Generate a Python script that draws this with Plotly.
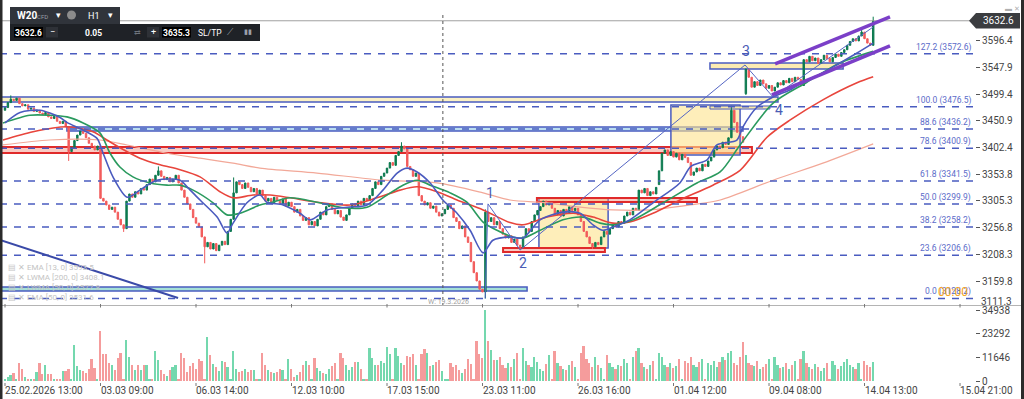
import plotly.graph_objects as go

# ---------------- data ----------------
x_tick_labels = ["25.02.2026 13:00", "03.03 09:00", "06.03 14:00", "12.03 10:00", "17.03 15:00",
                 "23.03 11:00", "26.03 16:00", "01.04 12:00", "09.04 08:00", "14.04 13:00", "15.04 21:00"]
bars_per_tick = 33

closes = [
    3475, 3484, 3490, 3488, 3492,
    3482, 3478, 3480, 3472, 3474, 3468, 3470, 3465,
    3462, 3466, 3458, 3455, 3459, 3450, 3446, 3450, 3440,
    3395, 3402,
    3415, 3425, 3432, 3428, 3420, 3410, 3405, 3398, 3405,
    3310,
    3305, 3298, 3290, 3294, 3285, 3272, 3262, 3255,
    3305,
    3318, 3312, 3322, 3318, 3328, 3325, 3335, 3345, 3340, 3352, 3360,
    3350, 3344, 3348, 3340, 3345, 3352, 3338,
    3325, 3312, 3300, 3290, 3275, 3265, 3258,
    3240, 3222, 3230, 3218, 3228, 3215, 3225, 3232, 3226,
    3250, 3272,
    3320, 3340, 3335, 3328, 3338, 3330, 3322, 3328, 3318, 3325,
    3315, 3305, 3310, 3302, 3312, 3306, 3300, 3309, 3296, 3303,
    3295, 3285, 3290, 3278, 3270, 3275, 3262, 3268, 3260,
    3272, 3285, 3280, 3295, 3300,
    3290, 3282, 3288, 3276, 3270, 3280,
    3292, 3300, 3295, 3305, 3298, 3310, 3306, 3315,
    3328, 3340, 3335, 3350, 3356,
    3365, 3375, 3370, 3388, 3395, 3405,
    3400, 3368,
    3362, 3350, 3356,
    3315, 3305, 3298, 3302, 3292, 3296,
    3285, 3278, 3282,
    3290, 3298, 3292,
    3275, 3268, 3255, 3260, 3240, 3230,
    3195, 3175, 3160, 3145, 3140,
    3285,
    3268, 3275, 3262, 3268, 3255,
    3245, 3238, 3242, 3230, 3236, 3225, 3222,
    3240, 3255, 3250, 3268, 3280, 3288,
    3295, 3305, 3298, 3302, 3292,
    3280, 3288, 3278, 3290, 3284, 3295, 3288, 3292, 3280,
    3268, 3250, 3240, 3228, 3222, 3230, 3226,
    3240, 3250, 3245,
    3255, 3262, 3258, 3268, 3265,
    3278, 3285, 3280, 3292, 3288,
    3325,
    3320, 3328, 3315, 3322, 3318, 3330,
    3360, 3392,
    3398, 3388, 3395, 3385, 3392, 3380, 3390, 3384, 3375,
    3352, 3358, 3365, 3360, 3372, 3368, 3378, 3385,
    3398, 3405, 3402, 3412, 3408, 3420,
    3470,
    3448, 3430, 3422, 3412,
    3545,
    3530, 3512, 3522, 3515, 3525, 3518, 3510, 3515, 3505,
    3512, 3520, 3516, 3524, 3520, 3528, 3522, 3530, 3526, 3515,
    3562,
    3558, 3568, 3560, 3565, 3555, 3562, 3570, 3564, 3558, 3566, 3572, 3568, 3575, 3580,
    3588, 3595, 3600, 3596, 3605, 3612,
    3600, 3592, 3588,
    3632.6,
]
gap_opens = {0: 3470, 226: 3335, 256: 3500}
wick_highs = {2: 3497, 53: 3368, 79: 3348, 137: 3412, 166: 3290, 251: 3478, 296: 3618, 300: 3640}
wick_lows = {22: 3378, 41: 3249, 69: 3192, 166: 3128.2, 178: 3216, 203: 3218, 256: 3498}

volumes = [
    840, 1980, 2960, 4100, 500, 8740, 5780, 1980, 1140, 500,
    500, 4450, 8740, 3310, 7760, 3310, 3310, 500, 500, 500,
    4790, 4940, 5780, 500, 17640, 7410, 5290, 4790, 3800, 6080,
    10720, 6570, 500, 24700, 13190, 13190, 9040, 7900, 5290, 11510,
    13980, 500, 20250, 11860, 8050, 5430, 7760, 5290, 8050, 8050,
    500, 500, 14820, 10370, 5290, 3310, 2620, 5430, 6920, 8050,
    500, 13680, 11210, 4590, 7260, 9040, 5780, 10720, 9880, 500,
    21880, 12840, 8550, 6920, 4940, 9880, 9390, 7060, 500, 14820,
    5780, 4590, 5090, 5780, 4590, 5290, 5430, 500, 500, 13980,
    7900, 5290, 4450, 4100, 4450, 5780, 5290, 500, 11020, 5780,
    1980, 3110, 4590, 7760, 9880, 7760, 500, 11210, 6570, 4790,
    3950, 3610, 5780, 7260, 9040, 500, 13980, 11210, 7900, 5290,
    6920, 9390, 9390, 6080, 500, 500, 16150, 11210, 7900, 7900,
    9880, 9040, 16940, 13190, 500, 16450, 12350, 8740, 7900, 12350,
    12000, 13490, 7760, 500, 13490, 15660, 13680, 7560, 7900, 9390,
    10370, 4940, 500, 500, 9040, 6920, 7900, 5430, 3800, 5780,
    10720, 8250, 840, 19760, 13490, 11510, 34938, 19760, 15170, 10370, 10370,
    12000, 8000, 6500, 9000, 7000, 11000, 14000, 500, 16000, 10000,
    8000, 7000, 12000, 9500, 6000, 5000, 8500, 13000, 500, 15000,
    9000, 7500, 6000, 5500, 8000, 10000, 7000, 500, 14000, 17000,
    11000, 9000, 7000, 12000, 8000, 6500, 500, 13000, 9000, 7000,
    6000, 8000, 7500, 11000, 9000, 500, 12000, 15000, 16000, 9000,
    7000, 6000, 8000, 10000, 500, 14000, 12000, 8000, 7000, 9000,
    6500, 7500, 11000, 500, 10000, 9000, 12000, 8000, 7000, 9500,
    11000, 500, 9000, 8000, 10000, 7000, 9500, 12000, 10500, 14000,
    15000, 9000, 8000, 12000, 19000, 13000, 9000, 8000, 7500, 10000,
    6000, 7000, 8500, 11000, 500, 12000, 8000, 6500, 7000, 9000,
    6000, 8000, 10000, 500, 11000, 15000, 9000, 7000, 6000, 8500,
    7000, 5000, 6500, 9000, 500, 10000, 8000, 6000, 7500, 9500,
    11000, 8000, 7000, 6000, 9000, 500, 10000, 8000, 7000, 9500,
]

ema13_i = [0, 5.2, 12.1, 19, 21.4, 27, 31.8, 33.9, 37.3, 42.2, 46.6, 52.5, 60.5, 62.9, 67.4, 73.3, 76.7,
           78.8, 83.6, 88.1, 90.5, 96.1, 101.9, 105.4, 111.3, 118.2, 125.1, 130.6, 135.5, 138.9, 142.4,
           146.9, 151.3, 156.2, 160.7, 165.2, 168.6, 174.5, 179, 184.9, 192.8, 198.7, 203.2, 206.6, 210.1,
           215.9, 223.9, 233.2, 237, 242.6, 246, 252.9, 255, 259.9, 265.4, 271.2, 277.1, 282.6, 288.5,
           294.4, 300]
ema13_p = [3447, 3466, 3470, 3457, 3448, 3434, 3419, 3392, 3349, 3312, 3325, 3343, 3343, 3331, 3307, 3276,
           3247, 3265, 3302, 3316, 3303, 3298, 3283, 3271, 3289, 3294, 3298, 3325, 3356, 3365, 3358, 3338,
           3307, 3283, 3252, 3211, 3234, 3240, 3238, 3271, 3285, 3283, 3262, 3252, 3258, 3271, 3302, 3338,
           3368, 3380, 3407, 3416, 3440, 3476, 3494, 3507, 3525, 3538, 3556, 3574, 3592]

lwma50_i = [-0.7, 8.6, 15.5, 21.4, 27, 32.8, 36.3, 39.7, 44.2, 50.1, 56, 60.5, 65, 71.9, 76.7, 81.2, 88.1,
            91.6, 98.5, 107.8, 116.8, 125.1, 132, 137.5, 142.4, 146.9, 153.8, 159.6, 165.2, 170, 175.5,
            179, 184.9, 192.8, 199.7, 205.6, 210.1, 217, 227.4, 239.1, 247.1, 254, 265.4, 277.1, 288.5, 300]
lwma50_p = [3447, 3461, 3461, 3458, 3447, 3429, 3392, 3367, 3349, 3338, 3334, 3334, 3325, 3302, 3280, 3283,
            3298, 3302, 3311, 3303, 3293, 3294, 3316, 3334, 3343, 3334, 3320, 3303, 3267, 3252, 3240, 3238,
            3252, 3271, 3276, 3265, 3262, 3271, 3302, 3338, 3358, 3407, 3483, 3521, 3556, 3577]

ema50_i = [-0.7, 9.7, 21.4, 30.4, 35.2, 39.7, 46.6, 53.6, 60.5, 67.4, 74.3, 78.8, 85.7, 91.6, 98.5, 107.8,
           119.2, 128.5, 136.5, 142.4, 149.3, 156.2, 165.2, 174.5, 179, 187.3, 196.3, 203.2, 210.1, 215.9,
           223.9, 233.2, 244.6, 254, 263.3, 271.2, 282.6, 294.4, 300]
ema50_p = [3416, 3431, 3440, 3431, 3416, 3402, 3383, 3371, 3362, 3349, 3322, 3311, 3316, 3316, 3311, 3303,
           3298, 3311, 3325, 3331, 3322, 3307, 3289, 3266, 3262, 3276, 3283, 3276, 3265, 3267, 3283, 3307,
           3334, 3361, 3421, 3452, 3489, 3520, 3531]

lwma200_i = [-0.7, 15.5, 32.8, 42.2, 56, 67.4, 78.8, 88.1, 107.8, 130.6, 149.3, 165.2, 174.5, 187.3, 198.7,
             210.1, 222.9, 236.7, 247.1, 265.4, 282.6, 300]
lwma200_p = [3407, 3416, 3416, 3407, 3392, 3383, 3374, 3365, 3356, 3343, 3338, 3320, 3307, 3302, 3294, 3289,
             3289, 3298, 3307, 3343, 3374, 3409]

ma_legend = ["EMA [13, 0] 3593.5", "LWMA [200, 0] 3408.1", "LWMA [50, 0] 3577.8", "EMA [50, 0] 3531.6"]

fib_ratio = ["127.2", "100.0", "88.6", "78.6", "61.8", "50.0", "38.2", "23.6", "0.0"]
fib_price = [3572.6, 3476.5, 3436.2, 3400.9, 3341.5, 3299.9, 3258.2, 3206.6, 3128.2]

price_ticks = [3159.8, 3208.3, 3256.8, 3305.3, 3353.8, 3402.4, 3450.9, 3499.4, 3547.9, 3596.4]
vol_ticks = [0, 11646, 23292, 34938]
last_price = 3632.6
ask_price = 3635.3

zigzag_i = [165.9, 166.9, 178.0, 255.7, 265.4, 300.0]
zigzag_p = [3128.2, 3300.0, 3216.2, 3552.3, 3494.1, 3621.3]
wave_text = ["1", "2", "3", "4"]
wave_i = [167.6, 179.0, 256.0, 267.4]
wave_p = [3320, 3193, 3578, 3471]

# zones: (i0, i1, p0, p1, fill, line, line width)
zones = [
    (-2, 267.1, 3485.0, 3494.1, "rgba(250,236,175,0.75)", "#4a5cc0", 1.5),
    (21.4, 255.0, 3432.4, 3439.6, "rgba(170,212,236,0.8)", "#4a5cc0", 1.5),
    (-2, 258.1, 3392.4, 3403.3, "rgba(242,140,125,0.45)", "#e02a2a", 2),
    (230.1, 254.0, 3388.8, 3479.6, "rgba(253,226,140,0.6)", "#4a5cc0", 1.5),
    (243.6, 264.3, 3472.3, 3477.8, "rgba(250,232,160,0.9)", "#4a5cc0", 1),
    (243.6, 289.6, 3545.0, 3555.9, "rgba(250,232,165,0.85)", "#4a5cc0", 1.5),
    (184.5, 208.4, 3219.8, 3310.7, "rgba(253,226,140,0.6)", "#4a5cc0", 1.5),
    (183.8, 239.1, 3303.4, 3310.7, "rgba(242,140,125,0.45)", "#e02a2a", 2),
    (172.1, 207.3, 3212.6, 3219.8, "rgba(242,140,125,0.45)", "#e02a2a", 2),
    (-2, 180.4, 3141.7, 3149.0, "rgba(150,220,208,0.85)", "#4a5cc0", 1.5),
]
trend_line = ((-1.73, 3234.4), (59.8, 3129.0))
channel_upper = ((266.1, 3554.1), (305.8, 3639.5))
channel_lower = ((265.0, 3497.8), (305.8, 3586.8))
week_marker_i = 151.3

# ---------------- derived ----------------
n = len(closes)
idx = list(range(n))
opens = [gap_opens.get(i, closes[i - 1] if i else closes[0]) for i in idx]
highs = [wick_highs.get(i, max(opens[i], closes[i])) for i in idx]
lows = [wick_lows.get(i, min(opens[i], closes[i])) for i in idx]
GREEN, RED = "#0c7a4f", "#f25c5c"
vol_colors = ["#74d8ae" if closes[i] >= opens[i] else "#f59c9c" for i in idx]

W, H = 1024, 399
ML, MR, MT, MB = 0, 49, 8, 18
PW, PH = W - ML - MR, H - MT - MB


def PX(x):
    return (x - ML) / PW


def PY(y):
    return (H - MB - y) / PH


X0, X1 = -5 / 2.894, 970 / 2.894
YMIN, YMAX = 3114.5, 3655.8

fig = go.Figure()

fig.add_trace(go.Bar(x=idx, y=volumes, marker=dict(color=vol_colors, line=dict(width=0)), width=0.6,
                     xaxis="x", yaxis="y2", hoverinfo="skip"))

ma_specs = [
    (lwma200_i, lwma200_p, "#f2a898", 1.2),
    (ema50_i, ema50_p, "#e8453c", 1.6),
    (lwma50_i, lwma50_p, "#2a9a5e", 1.6),
    (ema13_i, ema13_p, "#4b5bbf", 1.6),
]
for xs, ys, col, w in ma_specs:
    fig.add_trace(go.Scatter(x=xs, y=ys, mode="lines", line=dict(color=col, width=w, shape="spline", smoothing=0.8),
                             xaxis="x", yaxis="y", hoverinfo="skip"))

fig.add_trace(go.Candlestick(x=idx, open=opens, high=highs, low=lows, close=closes,
                             increasing=dict(line=dict(color=GREEN, width=1), fillcolor=GREEN),
                             decreasing=dict(line=dict(color=RED, width=1), fillcolor=RED),
                             whiskerwidth=0, xaxis="x", yaxis="y", hoverinfo="skip"))

fig.add_trace(go.Scatter(x=zigzag_i, y=zigzag_p, mode="lines", line=dict(color="#5566c4", width=1),
                         xaxis="x", yaxis="y", hoverinfo="skip"))

shapes = []
for i0, i1, p0, p1, fill, lc, lw in zones:
    shapes.append(dict(type="rect", xref="x", yref="y", x0=i0, x1=i1, y0=p0, y1=p1,
                       fillcolor=fill, line=dict(color=lc, width=lw), layer="below"))
for fp in fib_price:
    shapes.append(dict(type="line", xref="x", yref="y", x0=X0, x1=X1, y0=fp, y1=fp,
                       line=dict(color="#4a5cc0", width=1.5, dash="7px,7px"), layer="above"))
shapes.append(dict(type="line", xref="x", yref="y", x0=X0, x1=X1, y0=last_price, y1=last_price,
                   line=dict(color="#a0a0a0", width=1)))
(a, b) = trend_line
shapes.append(dict(type="line", xref="x", yref="y", x0=a[0], y0=a[1], x1=b[0], y1=b[1],
                   line=dict(color="#3a4aa8", width=2)))
for (a, b) in (channel_upper, channel_lower):
    shapes.append(dict(type="line", xref="x", yref="y", x0=a[0], y0=a[1], x1=b[0], y1=b[1],
                       line=dict(color="#7b3fc8", width=3.5)))
shapes.append(dict(type="line", xref="x", yref="paper", x0=week_marker_i, x1=week_marker_i,
                   y0=PY(306), y1=PY(14), line=dict(color="#555", width=1, dash="dot")))
# panel separator + frame edges
shapes.append(dict(type="line", xref="paper", yref="paper", x0=PX(0), x1=PX(1021), y0=PY(305.5), y1=PY(305.5),
                   line=dict(color="#b4b4b4", width=1)))
shapes.append(dict(type="rect", xref="paper", yref="paper", x0=PX(0), x1=PX(2.5), y0=PY(399), y1=PY(0),
                   fillcolor="#2b2b2b", line=dict(width=0)))
shapes.append(dict(type="rect", xref="paper", yref="paper", x0=PX(1021), x1=PX(1024), y0=PY(399), y1=PY(0),
                   fillcolor="#2b2b2b", line=dict(width=0)))
# x tick marks
for k in range(len(x_tick_labels)):
    xp = 5 + k * bars_per_tick * 2.894
    shapes.append(dict(type="line", xref="paper", yref="paper", x0=PX(xp), x1=PX(xp), y0=PY(304), y1=PY(307.5),
                       line=dict(color="#777", width=1)))
    shapes.append(dict(type="line", xref="paper", yref="paper", x0=PX(xp), x1=PX(xp), y0=PY(383), y1=PY(386),
                       line=dict(color="#777", width=1)))
# toolbar
shapes += [
    dict(type="rect", xref="paper", yref="paper", x0=PX(10), x1=PX(120), y0=PY(24), y1=PY(7),
         fillcolor="#30343b", line=dict(width=0)),
    dict(type="rect", xref="paper", yref="paper", x0=PX(10), x1=PX(260), y0=PY(41), y1=PY(24),
         fillcolor="#1f2227", line=dict(width=0)),
    dict(type="rect", xref="paper", yref="paper", x0=PX(14), x1=PX(43), y0=PY(37.5), y1=PY(27),
         fillcolor="#000", line=dict(width=0)),
    dict(type="rect", xref="paper", yref="paper", x0=PX(46), x1=PX(58), y0=PY(37.5), y1=PY(27),
         fillcolor="#2e3137", line=dict(width=0)),
    dict(type="rect", xref="paper", yref="paper", x0=PX(147), x1=PX(159), y0=PY(37.5), y1=PY(27),
         fillcolor="#2e3137", line=dict(width=0)),
    dict(type="rect", xref="paper", yref="paper", x0=PX(162), x1=PX(191), y0=PY(37.5), y1=PY(27),
         fillcolor="#000", line=dict(width=0)),
    dict(type="circle", xref="paper", yref="paper", x0=PX(67), x1=PX(76), y0=PY(19.5), y1=PY(10.5),
         fillcolor="#8c8c8c", line=dict(width=0)),
]
# last price tag
path = "M {},{} L {},{} L {},{} L {},{} L {},{} Z".format(
    PX(969), PY(20.7), PX(976), PY(13), PX(1020), PY(13), PX(1020), PY(28.5), PX(976), PY(28.5))
shapes.append(dict(type="path", xref="paper", yref="paper", path=path, fillcolor="#3b3d40", line=dict(width=0)))

ann = []


def txt(x, y, s, size=10, color="#444", xanchor="left", yanchor="middle", bold=False, xref="paper", yref="paper"):
    if bold:
        s = "<b>" + s + "</b>"
    ann.append(dict(x=x, y=y, xref=xref, yref=yref, text=s, showarrow=False, xanchor=xanchor, yanchor=yanchor,
                    font=dict(size=size, color=color), borderpad=0))


for k, lab in enumerate(x_tick_labels):
    xp = 5 + k * bars_per_tick * 2.894
    txt(PX(xp - 1), PY(390), lab, size=10, color="#444")
for r, fp in zip(fib_ratio, fib_price):
    txt(X1 - 1, fp, f"{r} ({fp:.1f})", size=8.5, color="#5b6bc9", xanchor="right", yanchor="bottom",
        xref="x", yref="y")
txt(PX(937), PY(292), "00:00", size=12, color="#f5a623")
for t, wi, wp in zip(wave_text, wave_i, wave_p):
    txt(wi, wp, t, size=14, color="#4a5cb5", xanchor="center", xref="x", yref="y")
for k, s in enumerate(ma_legend):
    txt(PX(7), PY(267 + k * 10), "▤ ✕ " + s, size=8, color="#c4c4c4")
txt(PX(427), PY(302), "W: 19.3.2026", size=7, color="#a0a0a0")
txt(PX(980), PY(301), "3111.3", size=10, color="#444")
txt(PX(998), PY(20.7), str(last_price), size=10, color="#ffffff", xanchor="center")
txt(PX(1004), PY(9), "▬ ✕", size=7, color="#b0b0b0")
# toolbar texts
txt(PX(16), PY(15.5), "W20", size=10, color="#ffffff", bold=True)
txt(PX(36), PY(16), "CFD", size=6, color="#9a9ea6")
txt(PX(55), PY(15), "▾", size=9, color="#ffffff")
txt(PX(87), PY(16), "H1", size=9, color="#ffffff")
txt(PX(107), PY(15), "▾", size=9, color="#ffffff")
txt(PX(28.5), PY(32.5), str(last_price), size=8.5, color="#ffffff", xanchor="center", bold=True)
txt(PX(52), PY(32), "−", size=9, color="#ffffff", xanchor="center")
txt(PX(93), PY(32.5), "0.05", size=8.5, color="#ffffff", xanchor="center", bold=True)
txt(PX(137), PY(32.5), "⇄", size=8, color="#6e737c", xanchor="center")
txt(PX(153), PY(32), "+", size=9, color="#ffffff", xanchor="center")
txt(PX(176.5), PY(32.5), str(ask_price), size=8.5, color="#ffffff", xanchor="center", bold=True)
txt(PX(197), PY(32.5), "SL/TP", size=8.5, color="#ffffff")
txt(PX(226), PY(32), "⟋", size=9, color="#9aa0aa")
txt(PX(243), PY(32), "▮▮", size=7, color="#9aa0aa")

fig.update_layout(
    width=W, height=H, margin=dict(l=ML, r=MR, t=MT, b=MB),
    paper_bgcolor="white", plot_bgcolor="white", showlegend=False,
    font=dict(family="Roboto, Arial, sans-serif", size=10, color="#444"),
    shapes=shapes, annotations=ann, bargap=0,
    xaxis=dict(range=[X0, X1], showticklabels=False, showgrid=False, zeroline=False, showline=False,
               ticks="", rangeslider=dict(visible=False), fixedrange=True),
    yaxis=dict(domain=[PY(306), PY(8)], range=[YMIN, YMAX], side="right", anchor="x",
               tickvals=price_ticks, ticktext=[f"{v:.1f}" for v in price_ticks],
               ticks="outside", ticklen=4, tickcolor="#555", tickfont=dict(size=10, color="#444"),
               showgrid=False, zeroline=False, showline=False, fixedrange=True),
    yaxis2=dict(domain=[0, PY(308)], range=[0, 34938 * 73 / 71], side="right", anchor="x",
                tickvals=vol_ticks, ticktext=[str(v) for v in vol_ticks],
                ticks="outside", ticklen=4, tickcolor="#555", tickfont=dict(size=10, color="#444"),
                showgrid=False, zeroline=False, showline=False, fixedrange=True),
)

fig.write_html("out.html", config={"displayModeBar": False},
               post_script="document.body.style.margin='0px';document.body.style.overflow='hidden';")
